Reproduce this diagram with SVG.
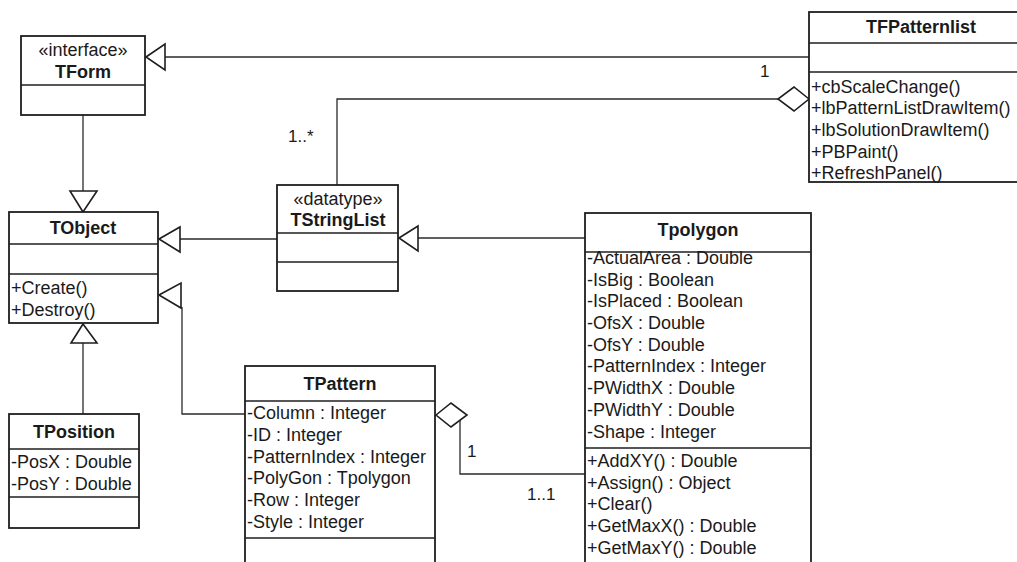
<svg xmlns="http://www.w3.org/2000/svg" width="1017" height="562" viewBox="0 0 1017 562">
<style>
.box{fill:#fff;stroke:#1e1e1e;stroke-width:1.8}
.div{stroke:#1e1e1e;stroke-width:1.6}
.t{font-family:"Liberation Sans",Arial,sans-serif;font-size:18px;fill:#1a1a1a}
.b{font-weight:bold;text-anchor:middle}
.c{text-anchor:middle}
.ln{fill:none;stroke:#2a2a2a;stroke-width:1.3}
.hd{fill:#fff;stroke:#1e1e1e;stroke-width:1.6}
</style>
<rect width="1017" height="562" fill="#fff"/>
<g id="connectors">
  <!-- TFPatternlist -> TForm generalization -->
  <line class="ln" x1="165" y1="57" x2="809" y2="57"/>
  <polygon class="hd" points="146,57 165,44 165,70"/>
  <!-- TForm -> TObject -->
  <line class="ln" x1="83" y1="115" x2="83" y2="191"/>
  <polygon class="hd" points="83,212 70,191 97,191"/>
  <!-- TStringList -> TObject -->
  <line class="ln" x1="180" y1="239" x2="277" y2="239"/>
  <polygon class="hd" points="159,239 180,227 180,252"/>
  <!-- Tpolygon -> TStringList -->
  <line class="ln" x1="418" y1="238" x2="585" y2="238"/>
  <polygon class="hd" points="399,238 418,226 418,251"/>
  <!-- TPattern -> TObject -->
  <polyline class="ln" points="182,307 182,414 245,414"/>
  <polygon class="hd" points="159,295 181,283 181,308"/>
  <!-- TPosition -> TObject -->
  <line class="ln" x1="83" y1="343" x2="83" y2="414"/>
  <polygon class="hd" points="83,324 71,343 97,343"/>
  <!-- TFPatternlist aggregation TStringList -->
  <polyline class="ln" points="778,99 337,99 337,185"/>
  <polygon class="hd" points="809,99 794,87 778,99 794,111"/>
  <!-- TPattern aggregation Tpolygon -->
  <polyline class="ln" points="460,420 460,474 585,474"/>
  <polygon class="hd" points="436,415 451,403 467,415 451,427"/>
  <text class="t" x="760" y="77" style="font-size:17px">1</text>
  <text class="t" x="288" y="142" style="font-size:17px">1..*</text>
  <text class="t" x="467" y="457" style="font-size:17px">1</text>
  <text class="t" x="527" y="500" style="font-size:17px">1..1</text>
</g>
<g id="TForm">
  <rect class="box" x="21" y="36" width="124" height="79"/>
  <line class="div" x1="21" y1="85" x2="145" y2="85"/>
  <text class="t c" x="83" y="56">«interface»</text>
  <text class="t b" x="83" y="78">TForm</text>
</g>
<g id="TFPatternlist">
  <rect class="box" x="809" y="12" width="228" height="170"/>
  <line class="div" x1="809" y1="43" x2="1037" y2="43"/>
  <line class="div" x1="809" y1="72" x2="1037" y2="72"/>
  <text class="t b" x="921" y="33">TFPatternlist</text>
  <text class="t" x="811" y="93">+cbScaleChange()</text>
  <text class="t" x="811" y="114">+lbPatternListDrawItem()</text>
  <text class="t" x="811" y="136">+lbSolutionDrawItem()</text>
  <text class="t" x="811" y="158">+PBPaint()</text>
  <text class="t" x="811" y="179">+RefreshPanel()</text>
</g>
<g id="TStringList">
  <rect class="box" x="277" y="185" width="121" height="106"/>
  <line class="div" x1="277" y1="233" x2="398" y2="233"/>
  <line class="div" x1="277" y1="262" x2="398" y2="262"/>
  <text class="t c" x="338" y="205">«datatype»</text>
  <text class="t b" x="338" y="226">TStringList</text>
</g>
<g id="TObject">
  <rect class="box" x="9" y="212" width="149" height="111"/>
  <line class="div" x1="9" y1="244" x2="158" y2="244"/>
  <line class="div" x1="9" y1="274" x2="158" y2="274"/>
  <text class="t b" x="83" y="234">TObject</text>
  <text class="t" x="11" y="294">+Create()</text>
  <text class="t" x="11" y="316">+Destroy()</text>
</g>
<g id="Tpolygon">
  <rect class="box" x="585" y="213" width="226" height="360"/>
  <line class="div" x1="585" y1="252" x2="811" y2="252"/>
  <line class="div" x1="585" y1="448" x2="811" y2="448"/>
  <text class="t b" x="698" y="236">Tpolygon</text>
  <text class="t" x="587" y="264">-ActualArea : Double</text>
  <text class="t" x="587" y="286">-IsBig : Boolean</text>
  <text class="t" x="587" y="307">-IsPlaced : Boolean</text>
  <text class="t" x="587" y="329">-OfsX : Double</text>
  <text class="t" x="587" y="351">-OfsY : Double</text>
  <text class="t" x="587" y="372">-PatternIndex : Integer</text>
  <text class="t" x="587" y="394">-PWidthX : Double</text>
  <text class="t" x="587" y="416">-PWidthY : Double</text>
  <text class="t" x="587" y="438">-Shape : Integer</text>
  <text class="t" x="587" y="467">+AddXY() : Double</text>
  <text class="t" x="587" y="489">+Assign() : Object</text>
  <text class="t" x="587" y="510">+Clear()</text>
  <text class="t" x="587" y="532">+GetMaxX() : Double</text>
  <text class="t" x="587" y="554">+GetMaxY() : Double</text>
</g>
<g id="TPattern">
  <rect class="box" x="245" y="366" width="190" height="210"/>
  <line class="div" x1="245" y1="401" x2="435" y2="401"/>
  <line class="div" x1="245" y1="538" x2="435" y2="538"/>
  <text class="t b" x="340" y="390">TPattern</text>
  <text class="t" x="247" y="419">-Column : Integer</text>
  <text class="t" x="247" y="441">-ID : Integer</text>
  <text class="t" x="247" y="463">-PatternIndex : Integer</text>
  <text class="t" x="247" y="484">-PolyGon : Tpolygon</text>
  <text class="t" x="247" y="506">-Row : Integer</text>
  <text class="t" x="247" y="528">-Style : Integer</text>
</g>
<g id="TPosition">
  <rect class="box" x="9" y="414" width="130" height="114"/>
  <line class="div" x1="9" y1="449" x2="139" y2="449"/>
  <line class="div" x1="9" y1="497" x2="139" y2="497"/>
  <text class="t b" x="74" y="438">TPosition</text>
  <text class="t" x="11" y="468">-PosX : Double</text>
  <text class="t" x="11" y="490">-PosY : Double</text>
</g>
</svg>
